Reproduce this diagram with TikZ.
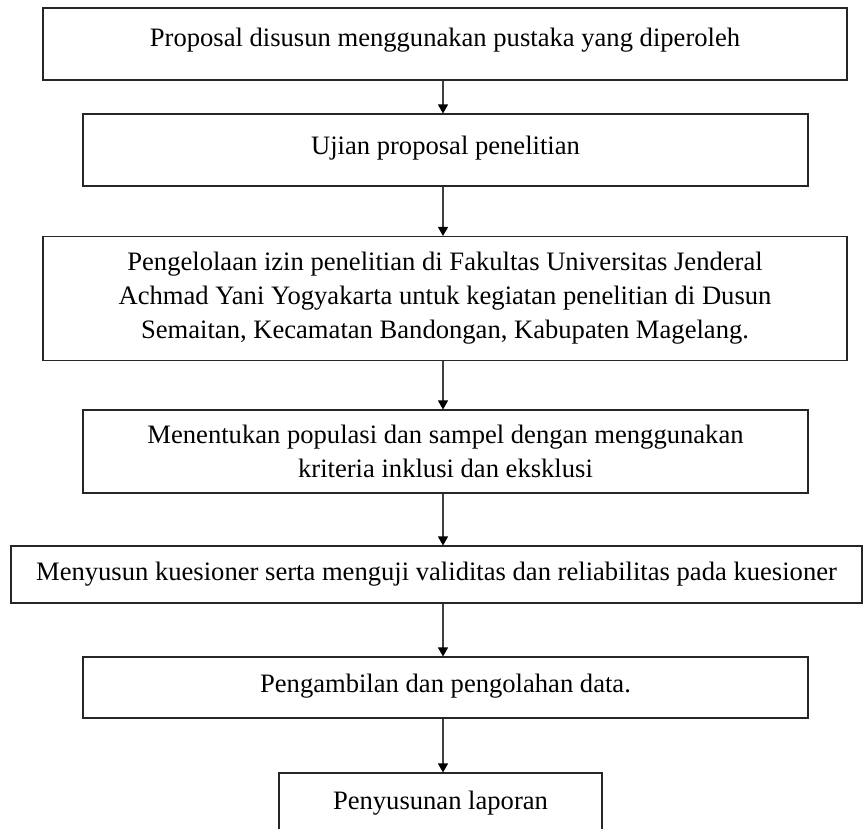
\documentclass[tikz,border=0pt]{standalone}
\usepackage{fontspec}
\setmainfont{Liberation Serif}
\usepackage{tikz}
\usetikzlibrary{positioning, arrows.meta}

\begin{document}
\begin{tikzpicture}[x=1pt, y=-1pt,
  box/.style={draw=black!85, line width=1.1pt, inner sep=0pt, align=center,
    font=\fontsize{26.6}{34}\selectfont},
  flow/.style={draw=black!75, line width=1.2pt,
    -{Triangle[width=10pt, length=9pt, color=black]}}]
\clip (0,0) rectangle (863,829);

% Boxes of the flow
\node[box, minimum width=804, minimum height=72, text depth=14pt] (prop) at (445,44)
  {Proposal disusun menggunakan pustaka yang diperoleh};
\node[box, minimum width=725, minimum height=72, text depth=10pt] (ujian) at (445.5,150)
  {Ujian proposal penelitian};
\node[box, minimum width=804, minimum height=124] (izin) at (445,298.5)
  {Pengelolaan izin penelitian di Fakultas Universitas Jenderal\\
   Achmad Yani Yogyakarta untuk kegiatan penelitian di Dusun\\
   Semaitan, Kecamatan Bandongan, Kabupaten Magelang.};
\node[box, minimum width=725, minimum height=83] (sampel) at (445.5,451.5)
  {Menentukan populasi dan sampel dengan menggunakan\\
   kriteria inklusi dan eksklusi};
\node[box, minimum width=851, minimum height=57] (kuesioner) at (436.5,574.5)
  {Menyusun kuesioner serta menguji validitas dan reliabilitas pada kuesioner};
\node[box, minimum width=725, minimum height=61, text depth=8pt] (data) at (445.5,687.5)
  {Pengambilan dan pengolahan data.};
\node[box, minimum width=323, minimum height=60] (laporan) at (440.5,803)
  {Penyusunan laporan};

% Arrows between the boxes
\coordinate (spine) at (443,0);
\draw[flow] (spine |- prop.south) -- (spine |- ujian.north);
\draw[flow] (spine |- ujian.south) -- (spine |- izin.north);
\draw[flow] (spine |- izin.south) -- (spine |- sampel.north);
\draw[flow] (spine |- sampel.south) -- (spine |- kuesioner.north);
\draw[flow] (spine |- kuesioner.south) -- (spine |- data.north);
\draw[flow] (spine |- data.south) -- (spine |- laporan.north);
\end{tikzpicture}
\end{document}
